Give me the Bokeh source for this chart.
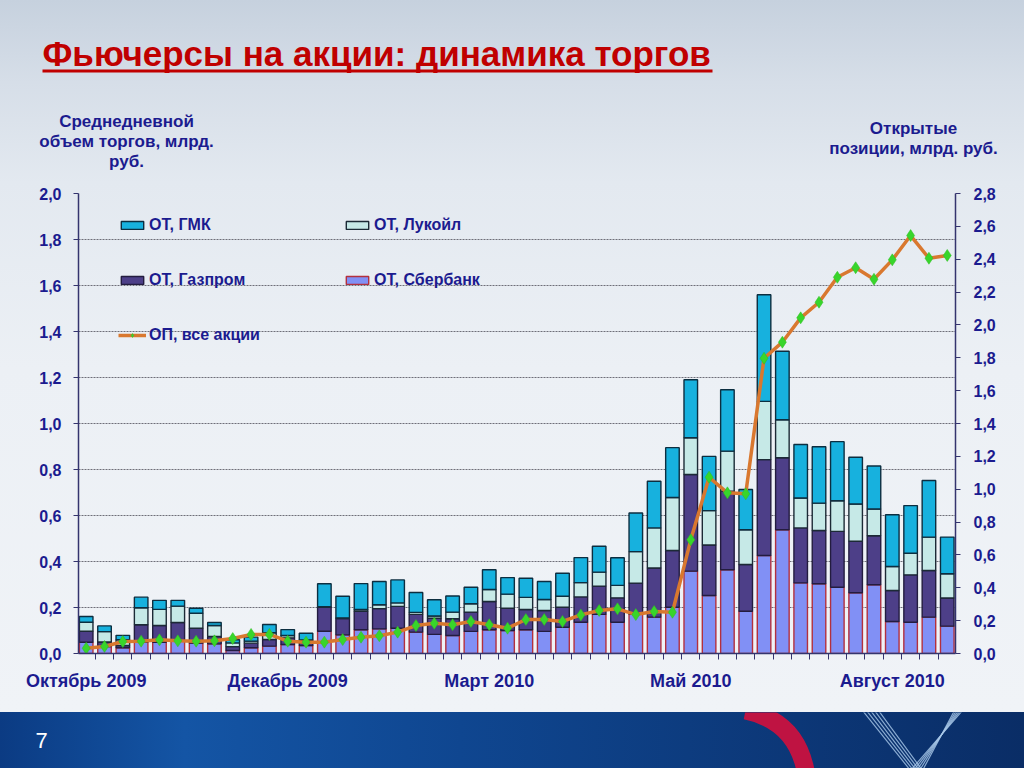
from bokeh.plotting import figure
from bokeh.models import (ColumnDataSource, Range1d, LinearAxis, FixedTicker, Legend,
                          LegendItem, Label, CustomJSTickFormatter, Plot)
from bokeh.layouts import column
from bokeh.embed import file_html
from bokeh.resources import INLINE

# ---------------- data ----------------
weeks = list(range(48))
x_tick_pos = [0, 11, 22, 33, 44]
x_tick_labels = ["Октябрь 2009", "Декабрь 2009", "Март 2010", "Май 2010", "Август 2010"]

# stacked series (left axis, bn rub), bottom -> top
sber = [0.049, 0.03, 0.025, 0.049, 0.049, 0.057, 0.045, 0.042, 0.013, 0.025, 0.032, 0.039,
        0.035, 0.097, 0.081, 0.103, 0.107, 0.11, 0.093, 0.083, 0.078, 0.096, 0.103, 0.1,
        0.103, 0.096, 0.114, 0.136, 0.17, 0.136, 0.17, 0.158, 0.201, 0.358, 0.252, 0.364,
        0.184, 0.426, 0.538, 0.307, 0.303, 0.288, 0.264, 0.299, 0.139, 0.136, 0.158, 0.119]
gazprom = [0.048, 0.02, 0.01, 0.076, 0.073, 0.078, 0.065, 0.032, 0.017, 0.02, 0.029, 0.029,
           0.017, 0.104, 0.071, 0.081, 0.088, 0.095, 0.077, 0.07, 0.073, 0.084, 0.123, 0.097,
           0.088, 0.091, 0.087, 0.11, 0.123, 0.106, 0.136, 0.214, 0.247, 0.42, 0.22, 0.342,
           0.203, 0.417, 0.313, 0.239, 0.232, 0.243, 0.224, 0.213, 0.135, 0.206, 0.203, 0.122]
lukoil = [0.039, 0.045, 0.025, 0.074, 0.07, 0.071, 0.065, 0.048, 0.016, 0.009, 0.029, 0.01,
          0.007, 0.003, 0.003, 0.007, 0.017, 0.015, 0.009, 0.01, 0.029, 0.036, 0.052, 0.061,
          0.053, 0.048, 0.048, 0.062, 0.061, 0.054, 0.137, 0.174, 0.23, 0.16, 0.149, 0.174,
          0.151, 0.253, 0.165, 0.13, 0.119, 0.133, 0.162, 0.116, 0.104, 0.094, 0.145, 0.106]
gmk = [0.025, 0.025, 0.019, 0.046, 0.039, 0.025, 0.022, 0.013, 0.014, 0.017, 0.036, 0.026,
       0.029, 0.099, 0.094, 0.113, 0.101, 0.10, 0.086, 0.071, 0.07, 0.072, 0.086, 0.072,
       0.083, 0.078, 0.1, 0.109, 0.112, 0.12, 0.168, 0.203, 0.217, 0.252, 0.236, 0.267,
       0.175, 0.464, 0.298, 0.233, 0.245, 0.257, 0.203, 0.187, 0.225, 0.207, 0.246, 0.159]
# open positions (right axis)
op = [0.032, 0.043, 0.073, 0.075, 0.083, 0.077, 0.075, 0.077, 0.091, 0.116, 0.116, 0.075,
      0.069, 0.069, 0.085, 0.099, 0.108, 0.13, 0.17, 0.184, 0.175, 0.195, 0.175, 0.154,
      0.207, 0.207, 0.195, 0.235, 0.262, 0.272, 0.237, 0.256, 0.251, 0.692, 1.073, 0.978,
      0.972, 1.797, 1.895, 2.043, 2.138, 2.29, 2.348, 2.278, 2.396, 2.544, 2.406, 2.423]

left_ticks = [0.0, 0.2, 0.4, 0.6, 0.8, 1.0, 1.2, 1.4, 1.6, 1.8, 2.0]
right_ticks = [0.0, 0.2, 0.4, 0.6, 0.8, 1.0, 1.2, 1.4, 1.6, 1.8, 2.0, 2.2, 2.4, 2.6, 2.8]

series_names = ["sber", "gazprom", "lukoil", "gmk"]
series_labels = ["ОТ, Сбербанк", "ОТ, Газпром", "ОТ, Лукойл", "ОТ, ГМК"]
line_label = "ОП, все акции"
title_text = "Фьючерсы на акции: динамика торгов"
left_title = ["Среднедневной", "объем торгов, млрд.", "руб."]
right_title = ["Открытые", "позиции, млрд. руб."]

# ---------------- style ----------------
FONT = "Liberation Sans"
NAVY = "#1b1b8f"
AXIS = "#34346e"
W = 1024
fills = ["#8190f5", "#4d3f88", "#c6e9e7", "#17b1de"]
lines = ["#b3303e", "#231c3f", "#1c2a36", "#0c2e40"]
HAS_FA = "frame_align" in Plot.properties()


def blank(fig, bg):
    fig.styles = {"background": bg}
    fig.border_fill_color = None
    fig.background_fill_color = None
    fig.outline_line_color = None
    fig.axis.visible = False
    fig.grid.visible = False
    if HAS_FA:
        fig.frame_align = False


# ---------------- header (title + axis titles) ----------------
HH = 183
h = figure(width=W, height=HH, output_backend="svg", toolbar_location=None,
           x_range=Range1d(0, W), y_range=Range1d(0, HH), min_border=0)
blank(h, "linear-gradient(180deg, #c6d1de 0%, #d6dee8 45%, #e3e9f0 100%)")
h.add_layout(Label(x=42, y=HH - 53, text=title_text, text_font=FONT, text_font_style="bold",
                   text_font_size="35px", text_color="#c00000", text_baseline="middle"))
h.hbar(y=[HH - 70.5], left=[42], right=[712], height=3, fill_color="#c00000", line_color=None)
for i, t in enumerate(left_title):
    h.add_layout(Label(x=126, y=HH - 121 - 20 * i, text=t, text_font=FONT, text_font_style="bold",
                       text_font_size="17px", text_color=NAVY, text_align="center",
                       text_baseline="middle"))
for i, t in enumerate(right_title):
    h.add_layout(Label(x=913, y=HH - 128 - 20 * i, text=t, text_font=FONT, text_font_style="bold",
                       text_font_size="17px", text_color=NAVY, text_align="center",
                       text_baseline="middle"))

# ---------------- main chart ----------------
src = ColumnDataSource(dict(x=weeks, sber=sber, gazprom=gazprom, lukoil=lukoil, gmk=gmk, op=op))

p = figure(width=W, height=529, output_backend="svg", toolbar_location=None,
           x_range=Range1d(-0.42, 47.45), y_range=Range1d(0, 2.0),
           min_border_left=78, min_border_right=69, min_border_top=10, min_border_bottom=59)
p.styles = {"background": "linear-gradient(180deg, #e3e9f0 0%, #ecf0f5 35%, #f0f3f7 100%)"}
p.border_fill_color = None
p.background_fill_color = None
p.outline_line_color = None
if HAS_FA:
    p.frame_align = False
p.extra_y_ranges = {"op": Range1d(0, 2.8)}

stack = p.vbar_stack(series_names, x="x", width=0.74, source=src,
                     fill_color=fills, line_color=lines, line_width=1.4)
r_line = p.line("x", "op", source=src, y_range_name="op", line_color="#d9782f", line_width=3.5)
r_pts = p.scatter("x", "op", source=src, y_range_name="op", marker="diamond", size=12,
                  fill_color="#38d52b", line_color="#2cbf22", line_width=0.5)

fmt = CustomJSTickFormatter(code="return tick.toFixed(1).replace('.', ',');")


def style_axis(ax):
    ax.axis_line_color = AXIS
    ax.axis_line_width = 1.5
    ax.major_tick_line_color = AXIS
    ax.major_tick_out = 5
    ax.major_tick_in = 0
    ax.minor_tick_line_color = None
    ax.major_label_text_font = FONT
    ax.major_label_text_font_style = "bold"
    ax.major_label_text_font_size = "16px"
    ax.major_label_text_color = NAVY


yl = p.yaxis[0]
yl.ticker = FixedTicker(ticks=left_ticks)
yl.formatter = fmt
style_axis(yl)
yl.major_label_standoff = 12

yr = LinearAxis(y_range_name="op", ticker=FixedTicker(ticks=right_ticks), formatter=fmt)
style_axis(yr)
yr.major_label_standoff = 13
p.add_layout(yr, "right")

xa = p.xaxis[0]
xa.ticker = FixedTicker(ticks=x_tick_pos, minor_ticks=[i - 0.5 for i in range(49)])
xa.major_label_overrides = {pos: lab for pos, lab in zip(x_tick_pos, x_tick_labels)}
style_axis(xa)
xa.major_label_text_font_size = "18px"
xa.major_tick_line_color = None
xa.minor_tick_line_color = AXIS
xa.minor_tick_out = 6
xa.minor_tick_in = 0
xa.major_label_standoff = 11

p.xgrid.visible = False
p.ygrid.ticker = FixedTicker(ticks=left_ticks)
p.ygrid.grid_line_color = "#6e6e78"
p.ygrid.grid_line_dash = "2 1"
p.ygrid.grid_line_width = 1

leg_common = dict(orientation="vertical", spacing=35, padding=0, margin=0, glyph_width=28,
                  glyph_height=10, label_height=20, label_standoff=3, border_line_color=None,
                  background_fill_alpha=0, label_text_font=FONT, label_text_font_style="bold",
                  label_text_font_size="16px", label_text_color=NAVY)
leg1 = Legend(items=[LegendItem(label=series_labels[3], renderers=[stack[3]]),
                     LegendItem(label=series_labels[1], renderers=[stack[1]]),
                     LegendItem(label=line_label, renderers=[r_line, r_pts])],
              location=(40, 308), **leg_common)
leg2 = Legend(items=[LegendItem(label=series_labels[2], renderers=[stack[2]]),
                     LegendItem(label=series_labels[0], renderers=[stack[0]])],
              location=(265, 363), **leg_common)
p.add_layout(leg1)
p.add_layout(leg2)

# ---------------- footer band ----------------
FH = 56
f = figure(width=W, height=FH, output_backend="svg", toolbar_location=None,
           x_range=Range1d(0, W), y_range=Range1d(0, FH), min_border=0)
blank(f, "linear-gradient(90deg, #0b3b83 0%, #1455a5 18%, #0f4690 45%, #0a2d66 100%)")
f.quadratic(x0=[745], y0=[58], x1=[805], y1=[-2], cx=[795], cy=[48], line_color="#d3103c",
            line_width=18, line_alpha=0.9)
for k in range(5):
    f.line([862 + 4 * k, 910 + 3 * k, 962 - 2 * k], [58, -2, 58], line_color="#a9c8e8",
           line_width=1.2, line_alpha=0.8)
f.add_layout(Label(x=35, y=28, text="7", text_color="white", text_font=FONT,
                   text_font_size="22px", text_baseline="middle"))

layout = column(h, p, f, spacing=0)
open("out.html", "w").write(file_html(layout, INLINE))
